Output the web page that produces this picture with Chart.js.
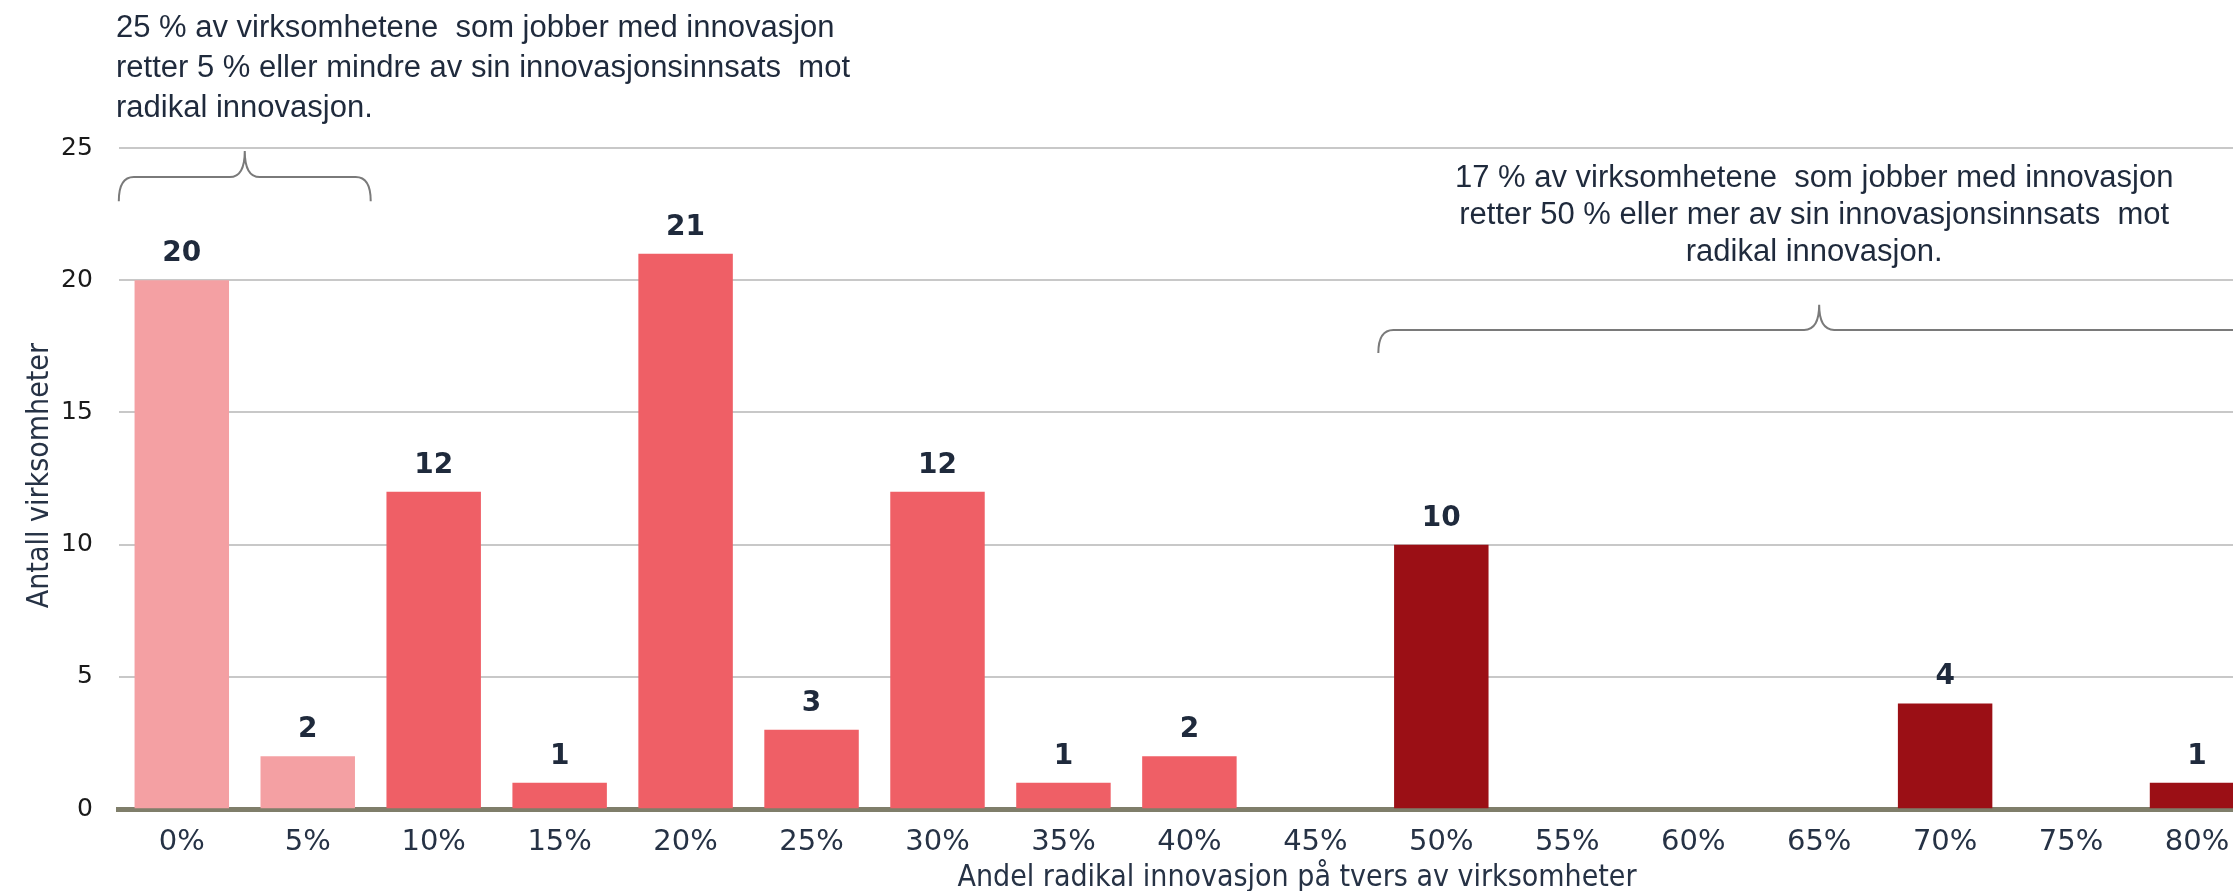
<!DOCTYPE html>
<html>
<head>
<meta charset="utf-8">
<script src="https://cdn.jsdelivr.net/npm/chart.js@4.4.1/dist/chart.umd.min.js"></script>
<style>
html, body { margin:0; padding:0; background:#fff; overflow:hidden; }
#wrap { width:2260px; height:891px; }
</style>
</head>
<body>
<div id="wrap"><canvas id="grafico" width="2260" height="891"></canvas></div>
<script>
// ---------------- DATA ----------------
const andeler = ["0%","5%","10%","15%","20%","25%","30%","35%","40%","45%","50%","55%","60%","65%","70%","75%","80%"]
const antall = [20, 2, 12, 1, 21, 3, 12, 1, 2, 0, 10, 0, 0, 0, 4, 0, 1]
const yTicks = [0, 5, 10, 15, 20, 25]

const tekstVenstre = [
  "25 % av virksomhetene  som jobber med innovasjon",
  "retter 5 % eller mindre av sin innovasjonsinnsats  mot",
  "radikal innovasjon."
]
const tekstHoyre = [
  "17 % av virksomhetene  som jobber med innovasjon",
  "retter 50 % eller mer av sin innovasjonsinnsats  mot",
  "radikal innovasjon."
]
const xTittel = "Andel radikal innovasjon på tvers av virksomheter"
const yTittel = "Antall virksomheter"

// farger etter gruppe
const lys = "#F4A0A3", middels = "#EF5F66", mork = "#9B0F15"
const farger = antall.map((v, i) => i < 2 ? lys : (i < 10 ? middels : mork))

const navy = "#1f2a3c"
const annotFont = "31px 'Liberation Sans', Arial, sans-serif"
const tittelFont = "30px 'DejaVu Sans Condensed', 'DejaVu Sans', sans-serif"

// ---------------- PLUGIN: verdier, klammer, tekst ----------------
function klamme(ctx, x1, x2, yTip, yLine, yEnd) {
  const xm = (x1 + x2) / 2
  const r = 15
  ctx.beginPath()
  ctx.moveTo(x1, yEnd)
  ctx.quadraticCurveTo(x1, yLine, x1 + r, yLine)
  ctx.lineTo(xm - r, yLine)
  ctx.quadraticCurveTo(xm, yLine, xm, yTip)
  ctx.quadraticCurveTo(xm, yLine, xm + r, yLine)
  ctx.lineTo(x2 - r, yLine)
  ctx.quadraticCurveTo(x2, yLine, x2, yEnd)
  ctx.stroke()
}

const ekstra = {
  id: "ekstra",
  afterDatasetsDraw(chart) {
    const ctx = chart.ctx
    const meta = chart.getDatasetMeta(0)
    ctx.save()
    ctx.font = "bold 28px 'DejaVu Sans', Verdana, sans-serif"
    ctx.fillStyle = navy
    ctx.textAlign = "center"
    ctx.textBaseline = "alphabetic"
    meta.data.forEach((bar, i) => {
      if (antall[i] > 0) ctx.fillText(antall[i], bar.x, bar.y - 19)
    })
    ctx.restore()
  },
  afterDraw(chart) {
    const ctx = chart.ctx
    const xs = chart.scales.x, ys = chart.scales.y
    const area = chart.chartArea
    const half = (xs.getPixelForValue(1) - xs.getPixelForValue(0)) / 2
    ctx.save()
    ctx.strokeStyle = "#7a7a7a"
    ctx.lineWidth = 2

    // venstre klamme over 0% og 5%
    const l1 = xs.getPixelForValue(0) - half, l2 = xs.getPixelForValue(1) + half
    klamme(ctx, l1, l2, ys.getPixelForValue(24.89), ys.getPixelForValue(23.9), ys.getPixelForValue(22.99))

    // hoyre klamme over 50% - 80%
    const r1 = xs.getPixelForValue(10) - half, r2 = xs.getPixelForValue(16) + half
    klamme(ctx, r1, r2, ys.getPixelForValue(19.07), ys.getPixelForValue(18.12), ys.getPixelForValue(17.25))

    ctx.font = annotFont
    ctx.fillStyle = navy
    ctx.textBaseline = "middle"
    ctx.textAlign = "left"
    tekstVenstre.forEach((t, i) => ctx.fillText(t, 116, 28 + i * 40))

    ctx.textAlign = "center"
    const rm = (r1 + r2) / 2 - 5
    tekstHoyre.forEach((t, i) => ctx.fillText(t, rm, 178 + i * 37))

    // aksetitler
    ctx.font = tittelFont
    ctx.fillStyle = "#263245"
    ctx.fillText(xTittel, 1297, 878)

    ctx.translate(40, (area.top + area.bottom) / 2 - 3)
    ctx.rotate(-Math.PI / 2)
    ctx.fillText(yTittel, 0, 0)
    ctx.restore()
  }
}

// ---------------- GRAFIKK ----------------
new Chart(document.getElementById("grafico"), {
  type: "bar",
  data: {
    labels: andeler,
    datasets: [{
      data: antall,
      backgroundColor: farger,
      barPercentage: 0.75,
      categoryPercentage: 1
    }]
  },
  options: {
    responsive: false,
    animation: false,
    layout: { padding: { top: 148, right: 0, bottom: 23, left: 35 } },
    plugins: { legend: { display: false }, tooltip: { enabled: false } },
    scales: {
      x: {
        grid: { display: false },
        border: { color: "#7f7e6a", width: 5 },
        ticks: {
          color: "#263245",
          padding: 8,
          font: { family: "'DejaVu Sans', Verdana, sans-serif", size: 29 }
        }
      },
      y: {
        min: 0,
        max: 25,
        afterBuildTicks: s => { s.ticks = yTicks.map(v => ({ value: v })) },
        grid: { color: "#c8c8c8", lineWidth: 2, drawTicks: false },
        border: { display: false },
        ticks: {
          color: "#1a1a1a",
          padding: 26,
          font: { family: "'DejaVu Sans', Verdana, sans-serif", size: 25 }
        }
      }
    }
  },
  plugins: [ekstra]
})
</script>
</body>
</html>
